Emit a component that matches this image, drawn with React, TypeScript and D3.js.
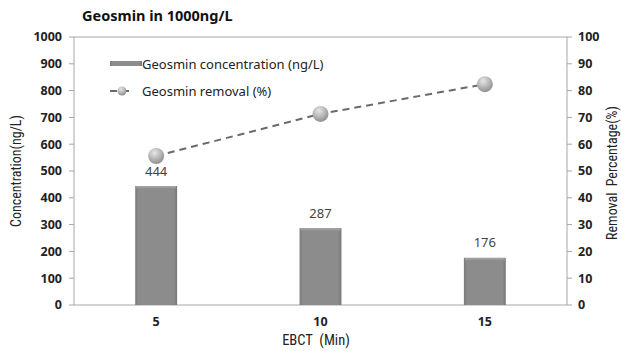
import React from "react";
import * as d3 from "d3";

// EBCT categories (minutes)
const ebct = ["5", "10", "15"];
// Geosmin concentration after treatment (ng/L)
const concentration = [444, 287, 176];
// Geosmin removal (%)
const removal = [55.6, 71.3, 82.4];
const leftTicks = [0, 100, 200, 300, 400, 500, 600, 700, 800, 900, 1000];
const rightTicks = [0, 10, 20, 30, 40, 50, 60, 70, 80, 90, 100];

const W = 621;
const H = 351;
const M = { left: 74, right: 54, top: 37, bottom: 46 };
const FONT = "'Noto Sans', 'Open Sans', sans-serif";
const NARROW = "'Liberation Sans Narrow', 'Roboto Condensed', 'Liberation Sans', sans-serif";

export default function App() {
  const x = d3.scaleBand<string>().domain(ebct).range([M.left, W - M.right]).padding(0);
  const yL = d3.scaleLinear().domain([0, 1000]).range([H - M.bottom, M.top]);
  const yR = d3.scaleLinear().domain([0, 100]).range([H - M.bottom, M.top]);
  const barW = x.bandwidth() * 0.255;
  const cx = (c: string) => (x(c) as number) + x.bandwidth() / 2;
  const line = d3
    .line<number>()
    .x((_, i) => cx(ebct[i]))
    .y((d) => yR(d));
  const axisColor = "#a6a6a6";
  const x0 = M.left;
  const x1 = W - M.right;
  const yb = H - M.bottom;

  return (
    <svg
      width={W}
      height={H}
      style={{ position: "absolute", left: 0, top: 0, background: "#fff" }}
    >
      <defs>
        <linearGradient id="barGrad" x1="0" x2="1" y1="0" y2="0">
          <stop offset="0" stopColor="#7a7a7a" />
          <stop offset="0.08" stopColor="#8c8c8c" />
          <stop offset="0.92" stopColor="#8c8c8c" />
          <stop offset="1" stopColor="#777" />
        </linearGradient>
        <linearGradient id="barTop" x1="0" x2="0" y1="0" y2="1">
          <stop offset="0" stopColor="#a8a8a8" />
          <stop offset="1" stopColor="#8c8c8c" />
        </linearGradient>
        <radialGradient id="ball" cx="0.4" cy="0.3" r="0.75">
          <stop offset="0" stopColor="#e6e6e6" />
          <stop offset="0.55" stopColor="#b4b4b4" />
          <stop offset="1" stopColor="#8a8a8a" />
        </radialGradient>
      </defs>

      {/* title */}
      <text x={82} y={21} fontFamily={FONT} fontWeight="bold" fontSize={14.5} fill="#111">
        Geosmin in 1000ng/L
      </text>

      {/* plot frame */}
      <line x1={x0} x2={x1} y1={M.top} y2={M.top} stroke={axisColor} />
      <line x1={x0} x2={x1} y1={yb} y2={yb} stroke={axisColor} />
      <line x1={x0} x2={x0} y1={M.top} y2={yb} stroke={axisColor} />
      <line x1={x1} x2={x1} y1={M.top} y2={yb} stroke={axisColor} />

      {/* left axis */}
      {leftTicks.map((t) => (
        <g key={"l" + t}>
          <line x1={x0 - 5} x2={x0} y1={yL(t)} y2={yL(t)} stroke={axisColor} />
          <text
            x={x0 - 12}
            y={yL(t)}
            dy="0.35em"
            textAnchor="end"
            fontFamily={FONT}
            fontWeight="bold"
            fontSize={12.5}
            fill="#222"
          >
            {t}
          </text>
        </g>
      ))}

      {/* right axis */}
      {rightTicks.map((t) => (
        <g key={"r" + t}>
          <line x1={x1} x2={x1 + 5} y1={yR(t)} y2={yR(t)} stroke={axisColor} />
          <text
            x={x1 + 11}
            y={yR(t)}
            dy="0.35em"
            textAnchor="start"
            fontFamily={FONT}
            fontWeight="bold"
            fontSize={12.5}
            fill="#222"
          >
            {t}
          </text>
        </g>
      ))}

      {/* bars */}
      {concentration.map((v, i) => {
        const bx = cx(ebct[i]) - barW / 2;
        const by = yL(v);
        return (
          <g key={"b" + i}>
            <rect x={bx} y={by} width={barW} height={yb - by} fill="url(#barGrad)" />
            <rect x={bx + 1} y={by} width={barW - 2} height={3} fill="url(#barTop)" />
            <text
              x={cx(ebct[i])}
              y={by - 15}
              dy="0.35em"
              textAnchor="middle"
              fontFamily={FONT}
              fontSize={13}
              fill="#444"
            >
              {v}
            </text>
          </g>
        );
      })}

      {/* removal line */}
      <path
        d={line(removal) || ""}
        fill="none"
        stroke="#6a6a6a"
        strokeWidth={2}
        strokeDasharray="7,5"
      />
      {removal.map((v, i) => (
        <circle key={"c" + i} cx={cx(ebct[i])} cy={yR(v)} r={8} fill="url(#ball)" />
      ))}

      {/* x tick labels */}
      {ebct.map((c) => (
        <text
          key={"x" + c}
          x={cx(c)}
          y={322}
          dy="0.35em"
          textAnchor="middle"
          fontFamily={FONT}
          fontWeight="bold"
          fontSize={12.5}
          fill="#222"
        >
          {c}
        </text>
      ))}

      {/* axis titles */}
      <text
        x={316}
        y={340}
        dy="0.35em"
        textAnchor="middle"
        fontFamily={NARROW}
        fontSize={14.5}
        fill="#222"
      >
        EBCT{"\u2002"}(Min)
      </text>
      <text
        transform={`translate(16,${(M.top + yb) / 2}) rotate(-90)`}
        dy="0.35em"
        textAnchor="middle"
        fontFamily={NARROW}
        fontSize={14}
        fill="#222"
      >
        Concentration(ng/L)
      </text>
      <text
        transform={`translate(612,${(M.top + yb) / 2 + 2}) rotate(-90)`}
        dy="0.35em"
        textAnchor="middle"
        fontFamily={NARROW}
        fontSize={14}
        fill="#222"
      >
        Removal{"\u2002"}Percentage(%)
      </text>

      {/* legend */}
      <rect x={110} y={61} width={32} height={5} fill="url(#barGrad)" />
      <text x={142} y={64} dy="0.35em" fontFamily={FONT} fontSize={13} fill="#222">
        Geosmin concentration (ng/L)
      </text>
      <line x1={110} x2={134} y1={91} y2={91} stroke="#6a6a6a" strokeWidth={2} strokeDasharray="7,5" />
      <circle cx={122} cy={91} r={4.5} fill="url(#ball)" />
      <text x={142} y={91} dy="0.35em" fontFamily={FONT} fontSize={13} fill="#222">
        Geosmin removal (%)
      </text>
    </svg>
  );
}
